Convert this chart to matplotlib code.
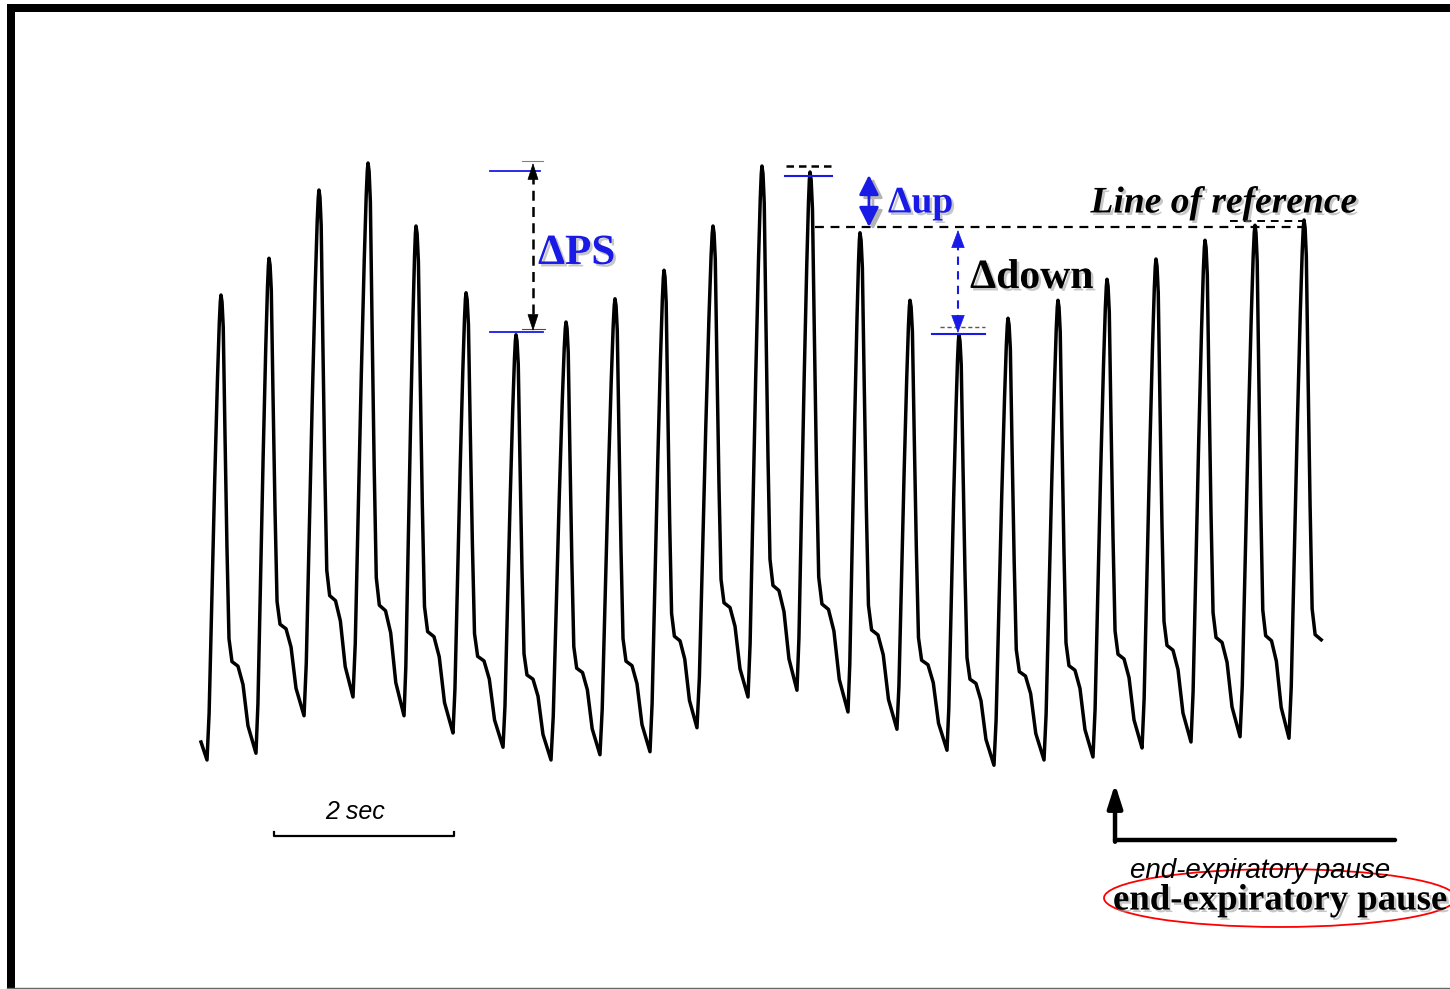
import numpy as np
import matplotlib
matplotlib.use("Agg")
import matplotlib.pyplot as plt
import matplotlib.patheffects as pe
from matplotlib.patches import Ellipse, Rectangle
from matplotlib.lines import Line2D

# Pressão arterial (mmHg), tempo em segundos
peak_t = [0.233, 0.767, 1.322, 1.867, 2.400, 2.956, 3.511, 4.067, 4.611, 5.156, 5.700, 6.244,
          6.778, 7.333, 7.889, 8.433, 8.978, 9.533, 10.078, 10.622, 11.167, 11.722, 12.267]
peak_v = [122.0, 126.9, 136.0, 139.6, 131.2, 122.3, 116.7, 118.4, 121.5, 125.3, 131.2, 139.2,
          138.4, 130.3, 121.3, 116.7, 118.9, 121.3, 124.1, 126.8, 129.3, 131.3, 132.0]
trough_t = [0.078, 0.622, 1.156, 1.700, 2.267, 2.811, 3.367, 3.900, 4.444, 5.000, 5.522, 6.089,
            6.633, 7.200, 7.744, 8.300, 8.822, 9.378, 9.922, 10.467, 11.011, 11.556, 12.100]
trough_v = [60.0, 60.9, 65.9, 68.4, 65.9, 63.6, 61.7, 60.0, 60.7, 61.1, 64.3, 68.4,
            69.3, 66.4, 64.1, 61.3, 59.3, 60.0, 60.4, 61.6, 62.4, 63.1, 62.9]
start_t, start_v = 0.011, 62.4
end_t = 12.467

# forma de um batimento (fração entre pico e vale)
up_u = [0.0, 0.15, 0.35, 0.55, 0.75, 0.88, 0.95, 1.0]
up_f = [1.0, 0.90, 0.65, 0.40, 0.18, 0.06, 0.015, 0.0]
down_u = [0.0, 0.03, 0.065, 0.114, 0.171, 0.229, 0.314, 0.40, 0.486, 0.629, 0.771, 1.0]
down_f = [0.0, 0.015, 0.07, 0.30, 0.55, 0.75, 0.80, 0.805, 0.81, 0.85, 0.94, 1.0]

ref_level = 131.07  # linha de referência (pausa expiratória)

# monta o traçado
tt = [start_t]
vv = [start_v]
n = len(peak_t)
for i in range(n):
    for u, f in zip(up_u, up_f):
        tt.append(trough_t[i] + u * (peak_t[i] - trough_t[i]))
        vv.append(peak_v[i] + f * (trough_v[i] - peak_v[i]))
    if i < n - 1:
        nt, nv = trough_t[i + 1], trough_v[i + 1]
    else:
        nt = peak_t[i] + np.mean(np.array(trough_t[1:]) - np.array(peak_t[:-1]))
        nv = trough_v[i]
    for u, f in zip(down_u[1:], down_f[1:]):
        tt.append(peak_t[i] + u * (nt - peak_t[i]))
        vv.append(peak_v[i] + f * (nv - peak_v[i]))
tt = np.array(tt)
vv = np.array(vv)
keep = tt <= end_t
tt, vv = tt[keep], vv[keep]

fig = plt.figure(figsize=(14.5, 9.89), dpi=100)
ax = fig.add_axes([0, 0, 1, 1])
ax.set_xlim(-2.2222, 13.8889)
ax.set_ylim(29.467, 161.333)
ax.axis('off')

ax.plot(tt, vv, color='black', lw=2.5, solid_joinstyle='round')

serif = 'Liberation Serif'
sans = 'Liberation Sans'
shadow = [pe.withSimplePatchShadow(offset=(1.8, -1.8), shadow_rgbFace='0.6', alpha=0.55)]
blue = '#1a1ae6'

def head(x, y_tip, y_from, color, hl=11, hw=3.6):
    ax.annotate('', xy=(x, y_tip), xytext=(x, y_from),
                arrowprops=dict(arrowstyle='-|>,head_length=%g,head_width=%g' % (hl, hw),
                                mutation_scale=1, color=color, lw=0.5,
                                shrinkA=0, shrinkB=0))

# ΔPS
x_ps = 3.70
top_ps, bot_ps = max(peak_v), min(peak_v) + 0.5
ax.plot([x_ps, x_ps], [top_ps - 1.5, bot_ps + 1.5], color='black', lw=1.8, ls=(0, (4, 2.5)))
head(x_ps, top_ps, top_ps - 2.2, 'black')
head(x_ps, bot_ps, bot_ps + 2.2, 'black')
ax.plot([3.222, 3.778], [138.5, 138.5], color=blue, lw=1.3)
ax.plot([3.222, 3.811], [117.07, 117.07], color=blue, lw=1.3)
ax.plot([3.578, 3.811], [139.87, 139.87], color='0.5', lw=0.8)
ax.plot([3.578, 3.833], [117.47, 117.47], color='0.3', lw=0.8)
ax.text(3.756, 127.47, 'ΔPS', color=blue, fontsize=31, fontweight='bold', family=serif,
        va='center', ha='left', path_effects=shadow)

# Δup
ax.plot([6.511, 7.056], [139.2, 139.2], color='black', lw=1.8, ls=(0, (3, 2)))
ax.plot([6.5, 7.022], [137.87, 137.87], color=blue, lw=1.5)
for dx, dy, c in [(0.044, -0.4, '0.7'), (0.0, 0.0, blue)]:
    ax.annotate('', xy=(7.433 + dx, 138.0 + dy), xytext=(7.433 + dx, ref_level + dy),
                arrowprops=dict(arrowstyle='<|-|>,head_length=12,head_width=6',
                                mutation_scale=1, color=c, lw=2, shrinkA=0, shrinkB=0))
ax.text(7.644, 134.27, 'Δup', color=blue, fontsize=27, fontweight='bold', family=serif,
        va='center', ha='left', path_effects=shadow)

# linha de referência
ax.plot([6.833, 12.278], [ref_level, ref_level], color='black', lw=1.6, ls=(0, (4, 3)))
ax.plot([11.444, 12.278], [131.87, 131.87], color='black', lw=1.4, ls=(0, (4, 3)))
ax.text(12.856, 134.27, 'Line of reference', color='black', fontsize=27, fontweight='bold',
        fontstyle='italic', family=serif, va='center', ha='right', path_effects=shadow)

# Δdown
x_dn = 8.422
ax.plot([x_dn, x_dn], [ref_level - 2.0, 116.93 + 2.0], color=blue, lw=1.5, ls=(0, (4, 3)))
head(x_dn, ref_level - 0.4, ref_level - 2.6, blue, hl=12, hw=4.5)
head(x_dn, 116.93, 116.93 + 2.2, blue, hl=12, hw=4.5)
ax.plot([8.133, 8.722], [116.8, 116.8], color=blue, lw=1.5)
ax.plot([8.222, 8.722], [117.73, 117.73], color='0.35', lw=1.0, ls=(0, (3, 2)))
ax.text(8.556, 124.27, 'Δdown', color='black', fontsize=30, fontweight='bold', family=serif,
        va='center', ha='left', path_effects=shadow)

# escala de tempo
ax.plot([0.822, 0.822, 2.822, 2.822], [50.4, 49.87, 49.87, 50.4], color='black', lw=1.6)
ax.text(1.722, 53.07, '2 sec', fontsize=18, fontstyle='italic', family=sans,
        ha='center', va='center')

# pausa expiratória
ax.plot([10.167, 13.278], [49.33, 49.33], color='black', lw=3.2, solid_capstyle='round')
ax.annotate('', xy=(10.167, 56.8), xytext=(10.167, 49.1),
            arrowprops=dict(arrowstyle='-|>,head_length=14,head_width=4.5', mutation_scale=1,
                            color='black', lw=3.2, shrinkA=0, shrinkB=0))
ax.text(11.778, 45.2, 'end-expiratory pause', fontsize=20, fontstyle='italic', family=sans,
        ha='center', va='center')
ax.text(10.144, 41.33, 'end-expiratory pause', fontsize=26.5, fontweight='bold', family=serif,
        ha='left', va='center', path_effects=shadow)
ax.add_patch(Ellipse((12.0, 41.6), width=3.911, height=7.73, fill=False, ec='red', lw=1.3))

# moldura
W, H = 1450, 989
fig.add_artist(Rectangle((7 / W, 1 - 12 / H), 1, 8 / H, transform=fig.transFigure,
                         color='black', lw=0))
fig.add_artist(Rectangle((7 / W, 0), 8 / W, 1 - 4 / H, transform=fig.transFigure,
                         color='black', lw=0))
fig.add_artist(Line2D([7 / W, 1], [1.2 / H, 1.2 / H], transform=fig.transFigure,
                      color='0.4', lw=1))

fig.savefig('out.png', dpi=100, facecolor='white')
